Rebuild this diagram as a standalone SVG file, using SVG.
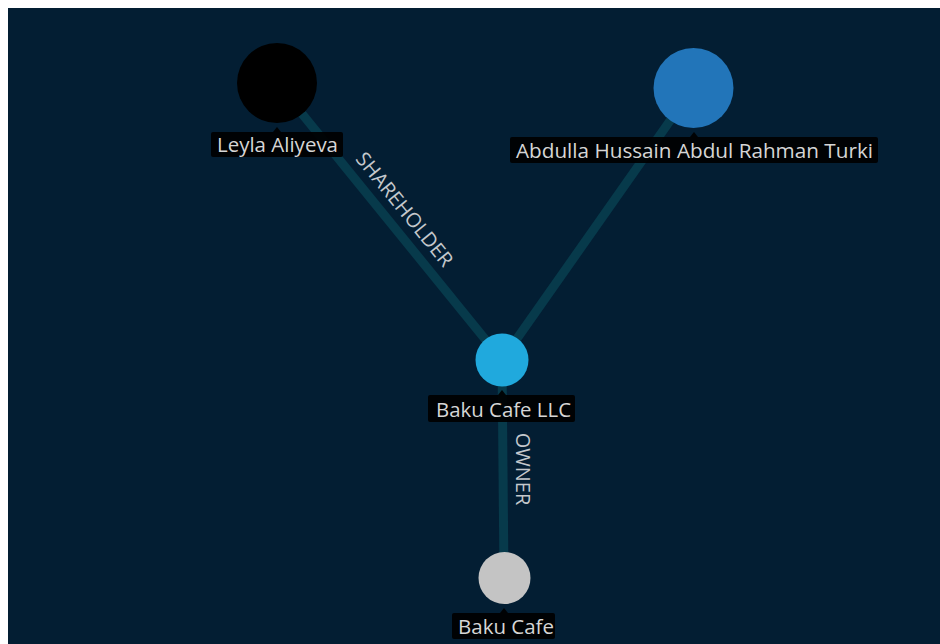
<svg xmlns="http://www.w3.org/2000/svg" width="940" height="644" viewBox="0 0 940 644">
<style>
.edge{stroke:#073a4b;stroke-width:9;fill:none}
.elabel{font-family:"Open Sans","Noto Sans",sans-serif;font-size:20px;fill:#c4c8cc;text-anchor:middle;dominant-baseline:central}
.lbox{fill:#000;opacity:0.92}
.ltext{font-family:"Open Sans","Noto Sans",sans-serif;font-size:20.5px;fill:#d6d6d6;text-anchor:middle}
</style>
<rect x="0" y="0" width="940" height="644" fill="#ffffff"/>
<rect x="8" y="8" width="932" height="636" fill="#031e33"/>
<g id="connectors">
<line class="edge" x1="277" y1="83" x2="502" y2="360"/>
<line class="edge" x1="693" y1="88" x2="502" y2="360"/>
<line class="edge" x1="502" y1="360" x2="504" y2="578"/>
<text class="elabel" transform="translate(405,209) rotate(50.9)">SHAREHOLDER</text>
<text class="elabel" transform="translate(523,469) rotate(90)">OWNER</text>
</g>
<g id="node-leyla">
<circle cx="277" cy="83" r="40" fill="#000000"/>
<rect class="lbox" x="211" y="132" width="132" height="25" rx="2"/>
<polygon class="lbox" points="273,132 277,127 281,132"/>
<text class="ltext" x="277.5" y="152" textLength="121" lengthAdjust="spacingAndGlyphs">Leyla Aliyeva</text>
</g>
<g id="node-abdulla">
<circle cx="693.5" cy="88" r="40" fill="#2275b9"/>
<rect class="lbox" x="510" y="137" width="368" height="26" rx="2"/>
<polygon class="lbox" points="690,137 694,132 698,137"/>
<text class="ltext" x="694.5" y="157.5" textLength="357" lengthAdjust="spacingAndGlyphs">Abdulla Hussain Abdul Rahman Turki</text>
</g>
<g id="node-bakucafellc">
<circle cx="502" cy="360" r="26.5" fill="#20a9dd"/>
<rect class="lbox" x="428" y="395" width="147" height="27" rx="2"/>
<polygon class="lbox" points="498,395 502,390 506,395"/>
<text class="ltext" x="503.5" y="416.5" textLength="135" lengthAdjust="spacingAndGlyphs">Baku Cafe LLC</text>
</g>
<g id="node-bakucafe">
<circle cx="504.5" cy="578" r="26" fill="#c4c4c4"/>
<rect class="lbox" x="452" y="613" width="103" height="26" rx="2"/>
<polygon class="lbox" points="500,613 504,608 508,613"/>
<text class="ltext" x="506" y="633.5" textLength="96" lengthAdjust="spacingAndGlyphs">Baku Cafe</text>
</g>
</svg>
